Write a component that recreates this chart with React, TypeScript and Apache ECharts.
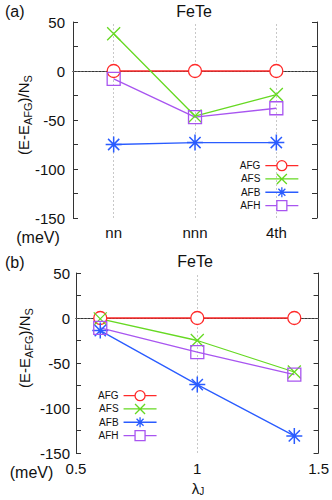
import React, { useEffect, useRef } from 'react';
import * as echarts from 'echarts';

const catsA = ['nn', 'nnn', '4th'];
const afgA = [0, 0, 0];
const afsA = [38, -46, -24];
const afbA = [-75, -73, -73];
const afhA = [-8, -47, -38];

const lambdaB = [0.6, 1.0, 1.4];
const afgB = [0, 0, 0];
const afsB = [-1, -25, -60];
const afbB = [-14, -74, -131];
const afhB = [-11, -38, -63];

const names = ['AFG', 'AFS', 'AFB', 'AFH'];
const colors = ['#ff2a2a', '#66d922', '#2a5cff', '#a855f0'];
const symbols = [
  'path://M10 5A5 5 0 1 1 0 5A5 5 0 1 1 10 5Z',
  'path://M0 0L10 10M10 0L0 10',
  'path://M5 0L5 10M0 5L10 5M1.5 1.5L8.5 8.5M8.5 1.5L1.5 8.5',
  'path://M0 0L10 0L10 10L0 10Z',
];
const sizes = [13, 13, 16, 13];
// legend icons: line + marker, drawn in a 33 x 10 box (y from 1 to 11)
const legendIcons = [
  'path://M0 6H11.5M21.5 6H33M21.5 6A5 5 0 1 1 11.5 6A5 5 0 1 1 21.5 6Z',
  'path://M0 6H33M11.5 1L21.5 11M21.5 1L11.5 11',
  'path://M0 6H33M16.5 1V11M11.5 6H21.5M13 2.5L20 9.5M20 2.5L13 9.5',
  'path://M0 6H11.5M21.5 6H33M11.5 1H21.5V11H11.5Z',
];

const FONT = 'Liberation Sans';
const AX = '#333';

function mkSeries(i: number, data: any[], xi: number, yi: number) {
  return {
    type: 'line',
    name: names[i],
    data,
    xAxisIndex: xi,
    yAxisIndex: yi,
    symbol: symbols[i],
    symbolSize: sizes[i],
    showSymbol: true,
    z: 3,
    color: colors[i],
    lineStyle: { color: colors[i], width: 1.3 },
    itemStyle: {
      color: i === 0 ? '#fff' : 'rgba(0,0,0,0)',
      borderColor: colors[i],
      borderWidth: i === 2 ? 1.5 : 1.3,
    },
    emphasis: { disabled: true },
    silent: true,
  };
}

function gridSeries(xi: number, yi: number, vLines: any[], data: any[]) {
  return {
    type: 'line',
    name: '_grid' + xi,
    data,
    xAxisIndex: xi,
    yAxisIndex: yi,
    symbol: 'none',
    z: 1,
    lineStyle: { opacity: 0 },
    silent: true,
    markLine: {
      z: 1,
      silent: true,
      symbol: ['none', 'none'],
      label: { show: false },
      animation: false,
      data: [
        ...vLines.map((v) => ({ xAxis: v, lineStyle: { color: '#c8c8c8', type: [2, 2], width: 1 } })),
        { yAxis: 0, lineStyle: { color: '#666', type: [1.5, 2], width: 1 } },
      ],
    },
  };
}

const tick = { show: true, inside: true, length: 5, lineStyle: { color: AX, width: 1 } };
const axisLine = { show: true, lineStyle: { color: AX, width: 1 } };
const lbl = { fontSize: 15, color: '#111', fontFamily: FONT };

function yAxes(gi: number, margin: number) {
  return [
    {
      gridIndex: gi,
      type: 'value',
      min: -150,
      max: 50,
      interval: 25,
      axisLine,
      axisTick: tick,
      splitLine: { show: false },
      axisLabel: { ...lbl, margin, formatter: (v: number) => (v % 50 === 0 ? String(v) : '') },
    },
    {
      gridIndex: gi,
      type: 'value',
      position: 'right',
      min: -150,
      max: 50,
      interval: 25,
      axisLine,
      axisTick: tick,
      splitLine: { show: false },
      axisLabel: { show: false },
    },
  ];
}

const yNameRich = {
  n: { fontSize: 15, fontFamily: FONT, fill: '#111', color: '#111' },
  s: { fontSize: 11, fontFamily: FONT, fill: '#111', color: '#111', padding: [9, 0, 0, 0] },
};

function yName(x: number, y: number) {
  return {
    type: 'text',
    x,
    y,
    rotation: Math.PI / 2,
    style: {
      text: '{n|(E-E}{s|AFG}{n|)/N}{s|S}',
      rich: yNameRich,
      fill: '#111',
      align: 'center',
      verticalAlign: 'middle',
    },
  };
}

function txt(text: string, x: number, y: number, size: number, align = 'center') {
  return {
    type: 'text',
    x,
    y,
    style: { text, fontSize: size, fontFamily: FONT, fill: '#111', align, verticalAlign: 'middle' },
  };
}

export default function App() {
  const ref = useRef<HTMLDivElement>(null);
  useEffect(() => {
    if (!ref.current) return;
    const chart = echarts.init(ref.current, null, { renderer: 'svg' });
    const legendCommon = {
      orient: 'vertical',
      align: 'right',
      itemWidth: 33,
      itemHeight: 10,
      itemGap: 2,
      padding: 0,
      data: names.map((n, i) => ({
        name: n,
        icon: legendIcons[i],
        itemStyle: {
          color: i === 0 ? '#fff' : 'rgba(0,0,0,0)',
          borderColor: colors[i],
          borderWidth: 1.3,
        },
      })),
      selectedMode: false,
      textStyle: { fontSize: 10, lineHeight: 10, fontFamily: FONT, color: '#111' },
    };
    const option: any = {
      animation: false,
      backgroundColor: '#fff',
      grid: [
        { left: 73, top: 22, width: 244, height: 196 },
        { left: 76, top: 273, width: 243, height: 180 },
      ],
      xAxis: [
        {
          gridIndex: 0,
          type: 'category',
          data: catsA,
          boundaryGap: true,
          position: 'bottom',
          axisLine,
          axisTick: { ...tick, alignWithLabel: true },
          axisLabel: { ...lbl, margin: 7 },
          splitLine: { show: false },
        },
        {
          gridIndex: 0,
          type: 'category',
          data: catsA,
          boundaryGap: true,
          position: 'top',
          axisLine,
          axisTick: { ...tick, alignWithLabel: true },
          axisLabel: { show: false },
          splitLine: { show: false },
        },
        {
          gridIndex: 1,
          type: 'value',
          min: 0.5,
          max: 1.5,
          interval: 0.5,
          position: 'bottom',
          axisLine,
          axisTick: tick,
          axisLabel: { ...lbl, margin: 8 },
          splitLine: { show: false },
        },
        {
          gridIndex: 1,
          type: 'value',
          min: 0.5,
          max: 1.5,
          interval: 0.5,
          position: 'top',
          axisLine,
          axisTick: tick,
          axisLabel: { show: false },
          splitLine: { show: false },
        },
      ],
      yAxis: [...yAxes(0, 8), ...yAxes(1, 6)],
      legend: [
        { ...legendCommon, right: 33, top: 160 },
        { ...legendCommon, left: 98, top: 390 },
      ],
      series: [
        gridSeries(0, 0, catsA, afgA),
        mkSeries(0, afgA, 0, 0),
        mkSeries(1, afsA, 0, 0),
        mkSeries(2, afbA, 0, 0),
        mkSeries(3, afhA, 0, 0),
        gridSeries(2, 2, [1], lambdaB.map((x, k) => [x, afgB[k]])),
        mkSeries(0, lambdaB.map((x, k) => [x, afgB[k]]), 2, 2),
        mkSeries(1, lambdaB.map((x, k) => [x, afsB[k]]), 2, 2),
        mkSeries(2, lambdaB.map((x, k) => [x, afbB[k]]), 2, 2),
        mkSeries(3, lambdaB.map((x, k) => [x, afhB[k]]), 2, 2),
      ],
      graphic: [
        txt('(a)', 5, 11, 16, 'left'),
        txt('FeTe', 194, 11, 16),
        txt('(meV)', 38, 237, 16),
        yName(23, 115),
        txt('(b)', 5, 262, 16, 'left'),
        txt('FeTe', 195, 261, 16),
        txt('(meV)', 31.5, 472, 16),
        yName(24, 348),
        {
          type: 'text',
          x: 198,
          y: 488,
          style: {
            text: '{n|λ}{s|J}',
            rich: {
              n: { fontSize: 15, fontFamily: FONT, fill: '#111' },
              s: { fontSize: 10, fontFamily: FONT, fill: '#111', padding: [7, 0, 0, 0] },
            },
            align: 'center',
            verticalAlign: 'middle',
          },
        },
      ],
    };
    chart.setOption(option);
    return () => chart.dispose();
  }, []);
  return (
    <div
      ref={ref}
      style={{ position: 'absolute', left: 0, top: 0, width: 332, height: 500 }}
    />
  );
}
